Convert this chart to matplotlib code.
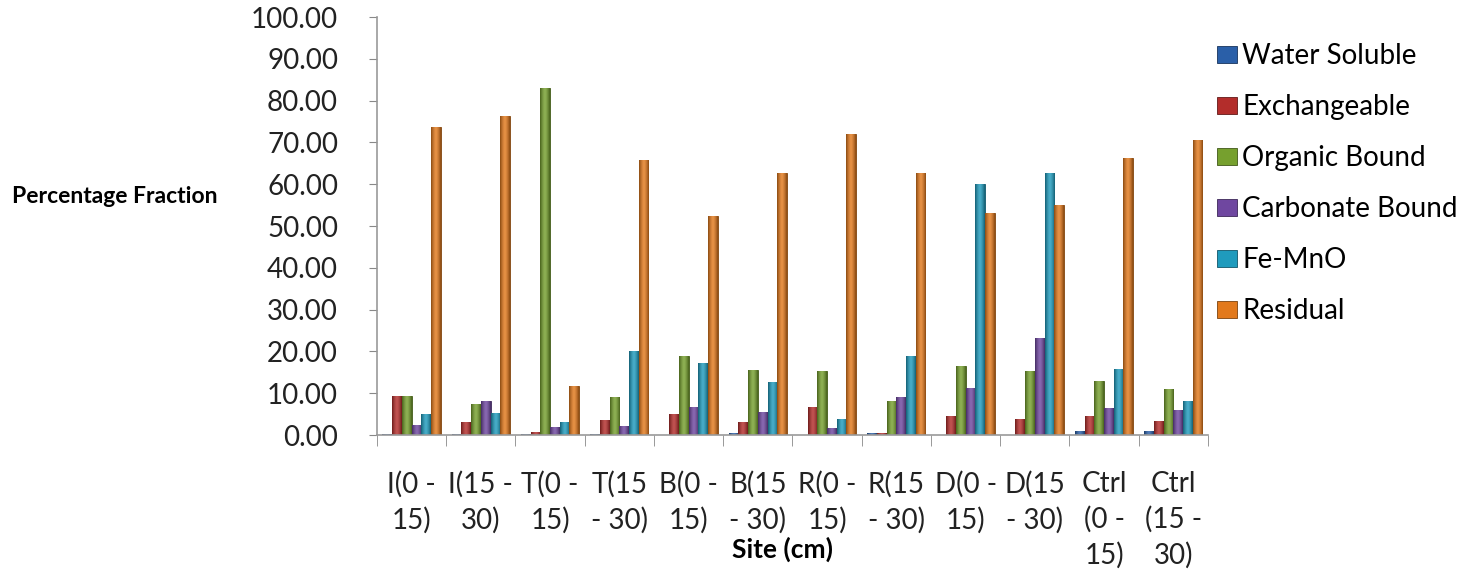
import numpy as np
import matplotlib.pyplot as plt
from matplotlib.colors import to_rgb

plt.rcParams['font.family'] = ['Lato', 'DejaVu Sans']

sites = ["I(0 -\n15)", "I(15 -\n30)", "T(0 -\n15)", "T(15\n- 30)", "B(0 -\n15)", "B(15\n- 30)",
         "R(0 -\n15)", "R(15\n- 30)", "D(0 -\n15)", "D(15\n- 30)", "Ctrl\n(0 -\n15)", "Ctrl\n(15 -\n30)"]

water_soluble = [0.2, 0.2, 0.2, 0.2, 0.1, 0.5, 0.1, 0.5, 0.1, 0.1, 1.0, 1.0]
exchangeable = [9.3, 3.2, 0.6, 3.6, 5.0, 3.2, 6.8, 0.5, 4.6, 3.8, 4.6, 3.4]
organic_bound = [9.3, 7.4, 83.1, 9.0, 19.0, 15.6, 15.4, 8.2, 16.4, 15.4, 12.9, 11.1]
carbonate_bound = [2.4, 8.2, 1.8, 2.1, 6.8, 5.4, 1.7, 9.0, 11.2, 23.3, 6.5, 6.0]
fe_mno = [5.0, 5.3, 3.2, 20.2, 17.3, 12.6, 3.8, 19.0, 60.1, 62.8, 15.8, 8.2]
residual = [73.8, 76.3, 11.8, 65.8, 52.4, 62.8, 71.9, 62.8, 53.2, 55.0, 66.2, 70.5]

series = [
    ("Water Soluble", water_soluble, "#2a5fa8"),
    ("Exchangeable", exchangeable, "#b32d2b"),
    ("Organic Bound", organic_bound, "#76a02e"),
    ("Carbonate Bound", carbonate_bound, "#6f47a0"),
    ("Fe-MnO", fe_mno, "#1f9bbd"),
    ("Residual", residual, "#e2791c"),
]


def shade(color):
    # dark edges, lighter middle: a rough cylinder look
    c = np.array(to_rgb(color))
    t = np.linspace(-1, 1, 32)
    k = 1 - np.abs(t) ** 1.5
    dark = c * 0.62
    light = c + (1 - c) * 0.18
    rows = dark[None, :] + (light - dark)[None, :] * k[:, None]
    return rows[None, :, :]


fig = plt.figure(figsize=(14.69, 5.69), dpi=100)
ax = fig.add_axes([0.2566, 0.2355, 0.5657, 0.7346])

x = np.arange(len(sites))
width = 0.14
for i, (name, vals, col) in enumerate(series):
    bars = ax.bar(x + (i - 2.5) * width, vals, width, color=col, label=name,
                  edgecolor=tuple(np.array(to_rgb(col)) * 0.55), linewidth=0.6, zorder=2)
    img = shade(col)
    for b in bars:
        x0, h = b.get_x(), b.get_height()
        im = ax.imshow(img, extent=[x0, x0 + width, 0, h], aspect='auto', zorder=2.5,
                       interpolation='bilinear')
        im.set_clip_path(b)

ax.set_xlim(-0.5, len(sites) - 0.5)
ax.set_ylim(0, 100)
ax.set_yticks(np.arange(0, 101, 10))
ax.set_yticklabels(["%.2f" % v for v in np.arange(0, 101, 10)], fontsize=20, color="#222222")
ax.tick_params(axis='y', direction='out', length=6, color="#888888", pad=22)

ax.set_xticks(x)
ax.set_xticklabels(sites, fontsize=20, color="#222222", linespacing=1.4, va='top')
ax.set_xticks(np.arange(-0.5, len(sites)), minor=True)
ax.tick_params(axis='x', which='major', length=0, pad=26)
ax.tick_params(axis='x', which='minor', direction='out', length=8, color="#888888")

for s in ("top", "right"):
    ax.spines[s].set_visible(False)
for s in ("left", "bottom"):
    ax.spines[s].set_color("#999999")
    ax.spines[s].set_linewidth(1.2)

fig.text(0.008, 0.655, "Percentage Fraction", fontsize=16.5, fontweight='bold', va='center', ha='left')
fig.text(0.533, 0.035, "Site (cm)", fontsize=19, fontweight='bold', ha='center', va='center')

fig.legend(loc='upper left', bbox_to_anchor=(0.8115, 0.968), frameon=False, fontsize=20,
           handlelength=0.7, handleheight=0.55, handletextpad=0.2, labelspacing=0.9)

fig.savefig("out.png", dpi=100)
